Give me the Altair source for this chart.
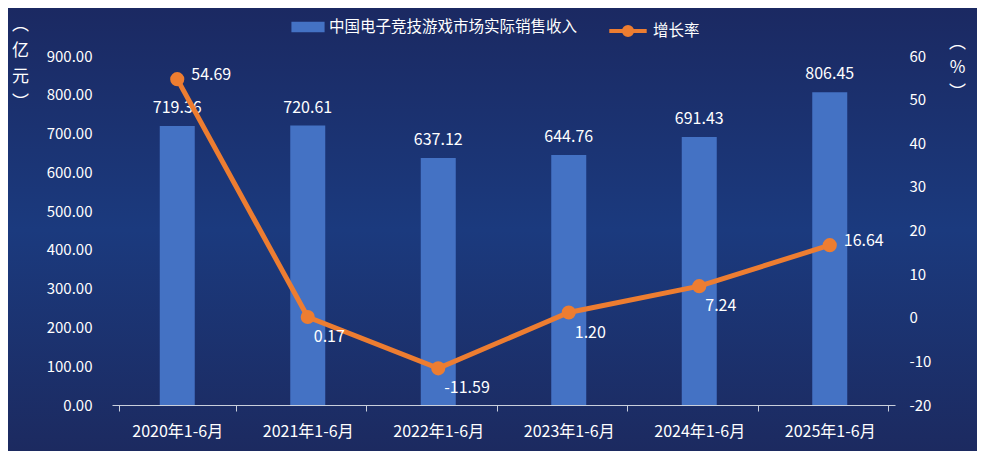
import altair as alt
import pandas as pd

periods = ["2020年1-6月", "2021年1-6月", "2022年1-6月", "2023年1-6月", "2024年1-6月", "2025年1-6月"]
revenue = [719.36, 720.61, 637.12, 644.76, 691.43, 806.45]
growth = [54.69, 0.17, -11.59, 1.20, 7.24, 16.64]
bar_name = "中国电子竞技游戏市场实际销售收入"
line_name = "增长率"
side_label_periods = ["2020年1-6月", "2025年1-6月"]

df = pd.DataFrame({
    "period": periods,
    "revenue": revenue,
    "growth": growth,
    "s1": [bar_name] * len(periods),
    "s2": [line_name] * len(periods),
})

FONT = "Noto Sans CJK SC"
BLUE = "#4472C4"
ORANGE = "#ED7D31"
WHITE = "#ffffff"
W, H = 783, 349
PAD = {"left": 104, "top": 48, "right": 82, "bottom": 46}

x = alt.X("period:N", sort=periods, title=None,
          axis=alt.Axis(labelAngle=0, labelFontSize=16, labelColor=WHITE, labelFont=FONT,
                        domainColor="#c9cfdc", tickColor="#c9cfdc", tickSize=6,
                        tickBand="extent", labelPadding=12, domainWidth=1.2, zindex=1))

y_left = alt.Y("revenue:Q", scale=alt.Scale(domain=[0, 900]),
               axis=alt.Axis(title=["︵", "亿", "元", "︶"], titleAngle=0, titleColor=WHITE,
                             titleFont=FONT, titleFontSize=17, titleFontWeight="normal",
                             titleX=-92, titleY=-40, titleAlign="center", titleBaseline="top",
                             titleLineHeight=26, zindex=1,
                             format=".2f", values=list(range(0, 901, 100)), labelFontSize=15,
                             labelColor=WHITE, labelFont=FONT, domain=False, ticks=False,
                             grid=False, labelPadding=20))

y_right = alt.Y("growth:Q", scale=alt.Scale(domain=[-20, 60]),
                axis=alt.Axis(orient="right", title=["︵", "%", "︶"], titleAngle=0,
                              titleColor=WHITE, titleFont=FONT, titleFontSize=17,
                              titleFontWeight="normal", titleX=62, titleY=-22,
                              titleAlign="center", titleBaseline="top", titleLineHeight=25,
                              values=list(range(-20, 61, 10)), labelFontSize=15, zindex=1,
                              labelColor=WHITE, labelFont=FONT, domain=False, ticks=False,
                              grid=False, labelPadding=14))

base = alt.Chart(df)

# background gradient panel covering the whole chart
bg = alt.Chart(pd.DataFrame({"k": [0]})).mark_rect(
    color=alt.Gradient(gradient="linear", x1=0, x2=0, y1=0, y2=1,
                       stops=[alt.GradientStop(offset=0, color="#1b2962"),
                              alt.GradientStop(offset=0.5, color="#1b3a7e"),
                              alt.GradientStop(offset=1, color="#1c2a60")])
).encode(
    x=alt.value(-PAD["left"]), x2=alt.value(W + PAD["right"]),
    y=alt.value(-PAD["top"]), y2=alt.value(H + PAD["bottom"])
)

bars = base.mark_bar(color=BLUE, size=35).encode(
    x=x, y=y_left,
    color=alt.Color("s1:N", scale=alt.Scale(range=[BLUE]),
                    legend=alt.Legend(title=None, orient="none", legendX=179, legendY=-46,
                                      padding=0, labelLimit=400, zindex=2,
                                      symbolType="M-1,-0.32H1V0.32H-1Z", symbolSize=1100,
                                      symbolStrokeWidth=0, labelFontSize=15.5, labelColor=WHITE,
                                      labelFont=FONT, symbolOpacity=1))
)
bar_text = base.mark_text(color=WHITE, fontSize=16, font=FONT, baseline="bottom", dy=-10).encode(
    x=x, y=y_left, text=alt.Text("revenue:Q", format=".2f")
)
left = alt.layer(bars, bar_text)

line = base.mark_line(color=ORANGE, strokeWidth=5).encode(
    x=x, y=y_right,
    color=alt.Color("s2:N", scale=alt.Scale(range=[ORANGE]),
                    legend=alt.Legend(title=None, orient="none", legendX=495, legendY=-46,
                                      padding=0, labelLimit=200, zindex=2,
                                      symbolType="M-1,0H1M-0.22,0A0.22,0.22 0 1 1 0.22,0A0.22,0.22 0 1 1 -0.22,0",
                                      symbolSize=1400, symbolStrokeWidth=4,
                                      symbolStrokeColor=ORANGE, symbolFillColor=ORANGE,
                                      labelFontSize=15.5, labelColor=WHITE, labelFont=FONT,
                                      symbolOpacity=1))
)
points = base.mark_point(filled=True, color=ORANGE, size=200, opacity=1).encode(x=x, y=y_right)
text_side = base.transform_filter(
    alt.FieldOneOfPredicate(field="period", oneOf=side_label_periods)
).mark_text(color=WHITE, fontSize=16, font=FONT, align="left", baseline="middle", dx=14, dy=-4).encode(
    x=x, y=y_right, text=alt.Text("growth:Q", format=".2f")
)
text_below = base.transform_filter(
    ~alt.FieldOneOfPredicate(field="period", oneOf=side_label_periods)
).mark_text(color=WHITE, fontSize=16, font=FONT, align="left", baseline="middle", dx=6, dy=20).encode(
    x=x, y=y_right, text=alt.Text("growth:Q", format=".2f")
)
right = alt.layer(line, points, text_side, text_below)

chart = alt.layer(bg, left, right).resolve_scale(y="independent", color="independent").properties(
    width=W, height=H, background="#1b3172",
    autosize=alt.AutoSizeParams(type="none"),
    padding=PAD
).configure_view(strokeWidth=0, stroke="transparent").configure_scale(
    bandPaddingInner=0.0, bandPaddingOuter=0.0
).configure(
    locale={"number": {"decimal": ".", "thousands": ",", "grouping": [3],
                       "currency": ["", ""], "minus": "-"}}
)

chart.save("out.html", embed_options={"renderer": "svg", "actions": False})
